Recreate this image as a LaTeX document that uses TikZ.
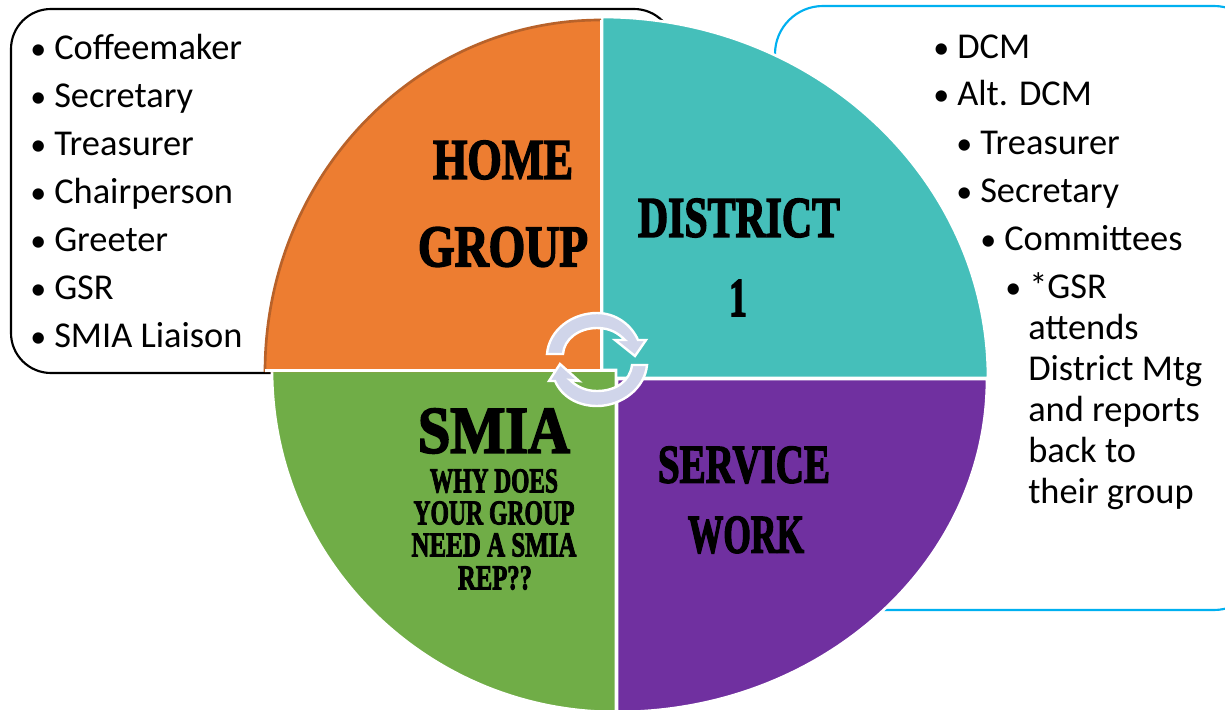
\documentclass[tikz,border=0pt]{standalone}
\usepackage{fontspec}
\setmainfont{Carlito}
\newfontfamily\hfont[BoldFeatures={FakeBold=3}]{Liberation Serif}
\usepackage{graphicx}
\definecolor{orangew}{HTML}{ED7D31}
\definecolor{tealw}{HTML}{45BFBA}
\definecolor{greenw}{HTML}{70AD47}
\definecolor{purplew}{HTML}{7030A0}
\definecolor{bluebox}{HTML}{00B0F0}
\definecolor{brownedge}{HTML}{B8622A}
\definecolor{arrowfill}{HTML}{D0D5EA}
\newcommand{\hdtext}[3]{\resizebox{\dimexpr#1pt*3/4\relax}{\dimexpr#2pt*3/4\relax}{\hfont\bfseries #3}}
\newcommand{\bul}{\makebox[18pt][l]{\fontsize{24}{30}\selectfont •}}
\tikzset{
  listitem/.style={anchor=base west,inner sep=0pt,font=\fontsize{27.3}{30}\selectfont,text=black},
  heading/.style={inner sep=0pt,text=black},
  wedge/.style={draw=white,line width=2pt,line join=miter},
  cyc/.style={fill=arrowfill,draw=white,line width=1.8pt,line join=miter}
}
\begin{document}
\begin{tikzpicture}[x=0.75pt,y=-0.75pt]
\useasboundingbox (0,0) rectangle (1225,710);
\clip (0,0) rectangle (1225,710);
\fill[white] (0,0) rectangle (1225,710);
% list boxes
\draw[black,line width=1.6pt,rounded corners=30pt] (11,9) rectangle (674,373);
\draw[bluebox,line width=1.6pt,rounded corners=36pt] (775,6) rectangle (1262,610);
% wedges
\filldraw[wedge,fill=tealw] (602,378) -- (602,17) arc[start angle=270,end angle=360,x radius=386,y radius=361] -- cycle;
\filldraw[wedge,fill=purplew] (617,379) -- (987,379) arc[start angle=0,end angle=90,x radius=370,y radius=333] -- cycle;
\filldraw[wedge,fill=greenw] (616,370) -- (616,712) arc[start angle=90,end angle=180,x radius=344,y radius=342] -- cycle;
\fill[orangew] (601,372) -- (265,372) arc[start angle=180,end angle=270,x radius=336,y radius=352] -- cycle;
\draw[brownedge,line width=2pt] (265,372) arc[start angle=180,end angle=270,x radius=336,y radius=352];
\draw[white,line width=2pt] (265,370.5) -- (616,370.5);
\draw[white,line width=2pt] (601,20) -- (601,370);
% cycle arrows
\path[cyc] (547,354) .. controls (549,330) and (572,313) .. (597,313) .. controls (615,313) and (631,324) .. (638,340) -- (646,340) -- (635,356) -- (615,340) -- (625,340) .. controls (618,333) and (610,328) .. (597,328) .. controls (579,328) and (564,339) .. (563,354) -- cycle;
\path[cyc] (647,365) .. controls (645,388) and (622,406) .. (597,406) .. controls (578,406) and (562,397) .. (555,381) -- (549,381) -- (560,364) -- (579,381) -- (570,380) .. controls (577,387) and (586,391) .. (597,391) .. controls (616,391) and (630,381) .. (632,365) -- cycle;
% left list
\node[listitem] (la) at (30,60) {\bul Coffeemaker};
\node[listitem] (lb) at (30,108) {\bul Secretary};
\node[listitem] (lc) at (30,156) {\bul Treasurer};
\node[listitem] (ld) at (30,203) {\bul Chairperson};
\node[listitem] (le) at (30,251) {\bul Greeter};
\node[listitem] (lf) at (30,299) {\bul GSR};
\node[listitem] (lg) at (30,347) {\bul SMIA Liaison};
% right list
\node[listitem] (ra) at (933,59) {\bul DCM};
\node[listitem] (rb) at (933,106) {\bul Alt. DCM};
\node[listitem] (rc) at (956,154) {\bul Treasurer};
\node[listitem] (rd) at (956,202) {\bul Secretary};
\node[listitem] (re) at (980,250) {\bul Committees};
\node[listitem] (rf) at (1005,298) {\bul *GSR};
\node[listitem] (rg) at (1028,339) {attends};
\node[listitem] (rh) at (1028,380) {District Mtg};
\node[listitem] (ri) at (1028,421) {and reports};
\node[listitem] (rj) at (1028,462) {back to};
\node[listitem] (rk) at (1028,503) {their group};
% headings
\node[heading] (home) at (503,160) {\hdtext{140}{38}{HOME}};
\node[heading] (group) at (503,247) {\hdtext{170}{39}{GROUP}};
\node[heading] (district) at (739,218) {\hdtext{202}{38}{DISTRICT}};
\node[heading] (one) at (738,298) {\hdtext{18}{36}{1}};
\node[heading] (smia) at (494,431) {\hdtext{152}{44}{SMIA}};
\node[heading] (why) at (494,481) {\hdtext{128}{23}{WHY DOES}};
\node[heading] (your) at (494,513) {\hdtext{161}{23}{YOUR GROUP}};
\node[heading] (need) at (494,545) {\hdtext{165}{23}{NEED A SMIA}};
\node[heading] (rep) at (495,578) {\hdtext{74}{23}{REP??}};
\node[heading] (service) at (744,465) {\hdtext{172}{36}{SERVICE}};
\node[heading] (work) at (746,535) {\hdtext{116}{36}{WORK}};
\end{tikzpicture}
\end{document}
